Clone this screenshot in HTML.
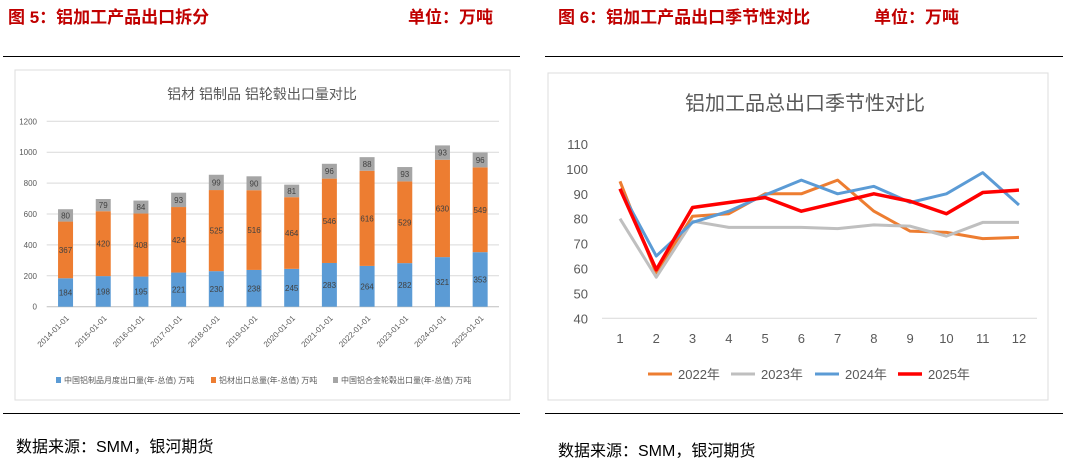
<!DOCTYPE html>
<html><head><meta charset="utf-8"><style>
body{margin:0;width:1066px;height:455px;background:#fff;overflow:hidden;position:relative;font-family:"Liberation Sans","Noto Sans CJK SC",sans-serif}
.hd{position:absolute;top:3px;color:#c00000;font-weight:bold;font-size:17px}
.rule{position:absolute;height:1px;background:#000}
.src{position:absolute;font-size:16px;color:#000}
svg{position:absolute;left:0;top:0}
</style></head><body>
<div class="hd" style="left:8px">图 5：铝加工产品出口拆分</div>
<div class="hd" style="left:408px">单位：万吨</div>
<div class="hd" style="left:558px">图 6：铝加工产品出口季节性对比</div>
<div class="hd" style="left:874px">单位：万吨</div>
<div class="rule" style="left:3px;width:517px;top:56px"></div>
<div class="rule" style="left:545px;width:518px;top:56px"></div>
<div class="rule" style="left:3px;width:517px;top:413px"></div>
<div class="rule" style="left:545px;width:518px;top:413px"></div>
<div class="src" style="left:16px;top:433px">数据来源：SMM，银河期货</div>
<div class="src" style="left:558px;top:437px">数据来源：SMM，银河期货</div>
<svg id="c" width="1066" height="455">
<rect x="15" y="70" width="495" height="330" fill="#fff" stroke="#ddd"/>
<rect x="548" y="73" width="500" height="327" fill="#fff" stroke="#ddd"/>
<text x="262" y="99" text-anchor="middle" font-size="14" fill="#595959">铝材 铝制品 铝轮毂出口量对比</text>
<text x="805" y="110" text-anchor="middle" font-size="20" fill="#595959">铝加工品总出口季节性对比</text>
</svg>
<script>
const years=["2014-01-01","2015-01-01","2016-01-01","2017-01-01","2018-01-01","2019-01-01","2020-01-01","2021-01-01","2022-01-01","2023-01-01","2024-01-01","2025-01-01"];
const products=[184,198,195,221,230,238,245,283,264,282,321,353];
const profiles=[367,420,408,424,525,516,464,546,616,529,630,549];
const wheels=[80,79,84,93,99,90,81,96,88,93,93,96];
const yTicksL=[0,200,400,600,800,1000,1200];
const months=[1,2,3,4,5,6,7,8,9,10,11,12];
const s2022=[95,58,81,82,90,90,95.5,83,75,74.5,72,72.5];
const s2023=[80,56.5,79,76.5,76.5,76.5,76,77.5,77,73,78.5,78.5];
const s2024=[92,65,78.5,83,89.5,95.5,90,93,86.5,90,98.5,85.5];
const s2025=[92,59.5,84.5,86.5,88.5,83,86.5,90,87,82,90.5,91.5];
const yTicksR=[40,50,60,70,80,90,100,110];
const svg=document.getElementById('c');const NS='http://www.w3.org/2000/svg';
function mk(t,a,txt){const e=document.createElementNS(NS,t);for(const k in a)e.setAttribute(k,a[k]);if(txt!==undefined)e.textContent=txt;svg.appendChild(e);return e;}
// left chart
const L0=46.7,L1=499,B0=306.7,BT=121.3;
const yL=v=>B0-(v/1200)*(B0-BT);const bw=(L1-L0)/years.length;const xL=i=>L0+bw*(i+0.5);
yTicksL.forEach(t=>{const g=mk('line',{x1:L0,x2:L1,y1:yL(t),y2:yL(t),stroke:t?'#d9d9d9':'#bfbfbf'});

const l=mk('text',{x:37,y:yL(t)+3,'text-anchor':'end','font-size':8,fill:'#595959'},t);
});
const segs=[[products,'#5b9bd5'],[profiles,'#ed7d31'],[wheels,'#a5a5a5']];
years.forEach((y,i)=>{let acc=0;segs.forEach(([arr,col],k)=>{const v=arr[i];
const r=mk('rect',{x:xL(i)-7.5,y:yL(acc+v),width:15,height:yL(acc)-yL(acc+v),fill:col});

const t=mk('text',{x:xL(i),y:(yL(acc+v/2))+3,'text-anchor':'middle','font-size':8,fill:'#404040'},v);

acc+=v;});
const tl=mk('text',{transform:`translate(${xL(i)+4},${B0+12}) rotate(-45)`,'text-anchor':'end','font-size':8,fill:'#595959'},y);
});
[['中国铝制品月度出口量(年-总值) 万吨','#5b9bd5',56],['铝材出口总量(年-总值) 万吨','#ed7d31',211],['中国铝合金轮毂出口量(年-总值) 万吨','#a5a5a5',333]].forEach(([n,c,x])=>{
const r=mk('rect',{x:x,y:377,width:5,height:6,fill:c});
const t=mk('text',{x:x+8,y:383,'font-size':8,fill:'#595959'},n);});
// right chart
const R0=602,R1=1037,yR=v=>318.3-(v-40)*(174.3/70),xR=m=>620+(m-1)*36.27;
mk('line',{x1:R0,x2:R1,y1:yR(40),y2:yR(40),stroke:'#d9d9d9'});
yTicksR.forEach(t=>{const l=mk('text',{x:588,y:yR(t)+5,'text-anchor':'end','font-size':13,fill:'#595959'},t);
});
months.forEach(m=>{const l=mk('text',{x:xR(m),y:343,'text-anchor':'middle','font-size':13,fill:'#595959'},m);
});
const series=[[s2022,'#ed7d31','2022年',3],[s2023,'#bfbfbf','2023年',3],[s2024,'#5b9bd5','2024年',3],[s2025,'#ff0000','2025年',3.5]];
series.forEach(([arr,c,n,w],k)=>{const p=mk('polyline',{points:arr.map((v,i)=>xR(months[i])+','+yR(v)).join(' '),fill:'none',stroke:c,'stroke-width':w,'stroke-linejoin':'round'});

const lx=[648,731,815,898][k];
const s=mk('line',{x1:lx,x2:lx+24,y1:374,y2:374,stroke:c,'stroke-width':w});

const t=mk('text',{x:lx+30,y:379,'font-size':13,fill:'#595959'},n);
});
</script>
</body></html>
